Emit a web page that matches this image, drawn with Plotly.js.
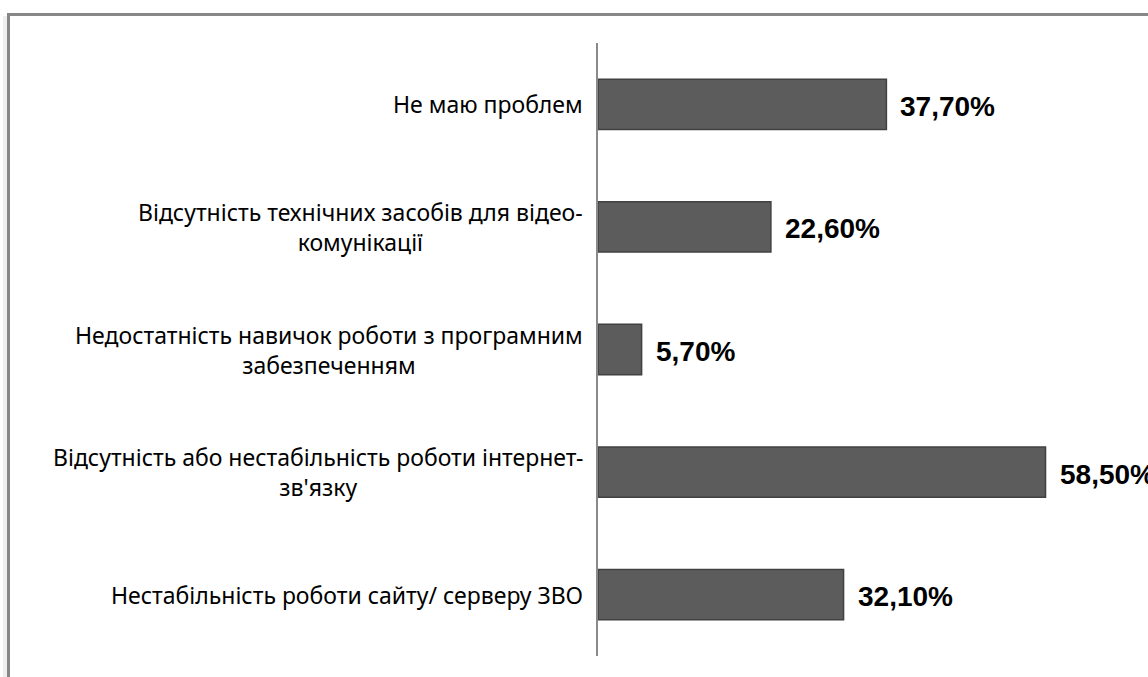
<!DOCTYPE html>
<html>
<head>
<meta charset="utf-8">
<script src="https://cdn.plot.ly/plotly-3.0.1.min.js"></script>
<style>
  html, body { margin: 0; padding: 0; background: #fff; }
  #wrap { position: relative; width: 1148px; height: 677px; overflow: hidden; }
  #chart { position: absolute; left: 0; top: 0; width: 1148px; height: 677px; }
  #frame { position: absolute; left: 7px; top: 13px; width: 1200px; height: 700px;
           border-top: 3px solid #878787; border-left: 3px solid #878787; pointer-events: none; }
  #frame2 { position: absolute; left: 3px; top: 16px; width: 4px; height: 700px; background: #efefef; pointer-events: none; }
</style>
</head>
<body>
<div id="wrap">
  <div id="chart"></div>
  <div id="frame2"></div>
  <div id="frame"></div>
</div>
<script>
// Categories (top to bottom)
const categories = [
  "Не маю проблем",
  "Відсутність технічних засобів для відео-<br>комунікації",
  "Недостатність навичок роботи з програмним<br>забезпеченням",
  "Відсутність або нестабільність роботи інтернет-<br>зв'язку",
  "Нестабільність роботи сайту/ серверу ЗВО"
];
// Values, percent
const values = [37.7, 22.6, 5.7, 58.5, 32.1];
const xMax = 60;

const fmt = v => v.toFixed(2).replace('.', ',') + '%';

const trace = {
  type: 'bar',
  orientation: 'h',
  x: values,
  y: categories,
  marker: {
    color: '#5c5c5c',
    line: { color: '#414141', width: 1.5 }
  },
  hoverinfo: 'none'
};

const annotations = [];
categories.forEach((c, i) => {
  annotations.push({
    xref: 'paper', yref: 'y', x: 0, y: c,
    xanchor: 'right', yanchor: 'middle', xshift: -13,
    align: 'center', showarrow: false, text: c,
    font: { family: 'Noto Sans, sans-serif', size: 23, color: '#000' }
  });
  annotations.push({
    xref: 'x', yref: 'y', x: values[i], y: c,
    xanchor: 'left', yanchor: 'middle', xshift: 12, yshift: -2,
    showarrow: false, text: '<b>' + fmt(values[i]) + '</b>',
    font: { family: 'Liberation Sans, Arial, sans-serif', size: 28, color: '#000' }
  });
});

const layout = {
  width: 1148, height: 677,
  margin: { l: 598, r: 91, t: 43, b: 21, pad: 0 },
  paper_bgcolor: '#fff', plot_bgcolor: '#fff',
  showlegend: false,
  bargap: 0.59,
  xaxis: { range: [0, xMax], visible: false, fixedrange: true },
  yaxis: {
    type: 'category', autorange: 'reversed',
    range: [4.5, -0.5],
    showticklabels: false, ticks: '', showgrid: false, zeroline: false,
    showline: true, linecolor: '#8a8a8a', linewidth: 2, fixedrange: true
  },
  annotations: annotations
};

Plotly.newPlot('chart', [trace], layout, { displayModeBar: false, staticPlot: true });
</script>
</body>
</html>
